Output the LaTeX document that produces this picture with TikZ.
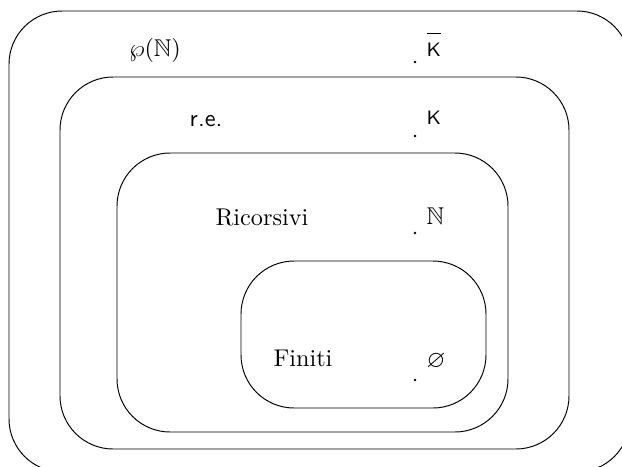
\documentclass[tikz,border=0pt]{standalone}
\usepackage{amsmath}
\usepackage{amssymb}
\usetikzlibrary{positioning}

\begin{document}
\begin{tikzpicture}[x=0.0145cm, y=-0.0145cm,
setbox/.style={draw, thin, rounded corners=0.77cm},
setlabel/.style={inner sep=0pt},
pointnode/.style={circle, fill, inner sep=0pt, minimum size=1.2pt},
elemlabel/.style={inner sep=0pt, font=\footnotesize},
]
\useasboundingbox (0,0) rectangle (622,466);
\clip (0,0) rectangle (622,466);

%Sets
\draw[setbox] (9,11) rectangle (630,472);
\draw[setbox] (60,77) rectangle (569,449);
\draw[setbox] (117,153) rectangle (508,432);
\draw[setbox] (241,261) rectangle (486,408);

%Set names
\node[setlabel] (powerset)  at (155,50)  {$\wp(\mathbb{N})$};
\node[setlabel] (re)        at (206,121) {\textsf{r.e.}};
\node[setlabel] (ricorsivi) at (262,217) {Ricorsivi};
\node[setlabel] (finiti)    at (303,358) {Finiti};

%Elements
\node[pointnode] (pKbar)  at (415,62)  {};
\node[pointnode] (pK)     at (415,136) {};
\node[pointnode] (pN)     at (415,233) {};
\node[pointnode] (pEmpty) at (415,380) {};
\node[elemlabel] (Kbar)  [above right=1.6pt and 4pt of pKbar]  {$\overline{\rule{0pt}{8.2pt}\mathsf{K}}$};
\node[elemlabel] (K)     [above right=4.1pt and 4pt of pK]     {$\mathsf{K}$};
\node[elemlabel] (N)     [above right=2.9pt and 4pt of pN]     {\normalsize$\mathbb{N}$};
\node[elemlabel] (Empty) [above right=3.7pt and 4pt of pEmpty] {\normalsize$\varnothing$};
\end{tikzpicture}
\end{document}
